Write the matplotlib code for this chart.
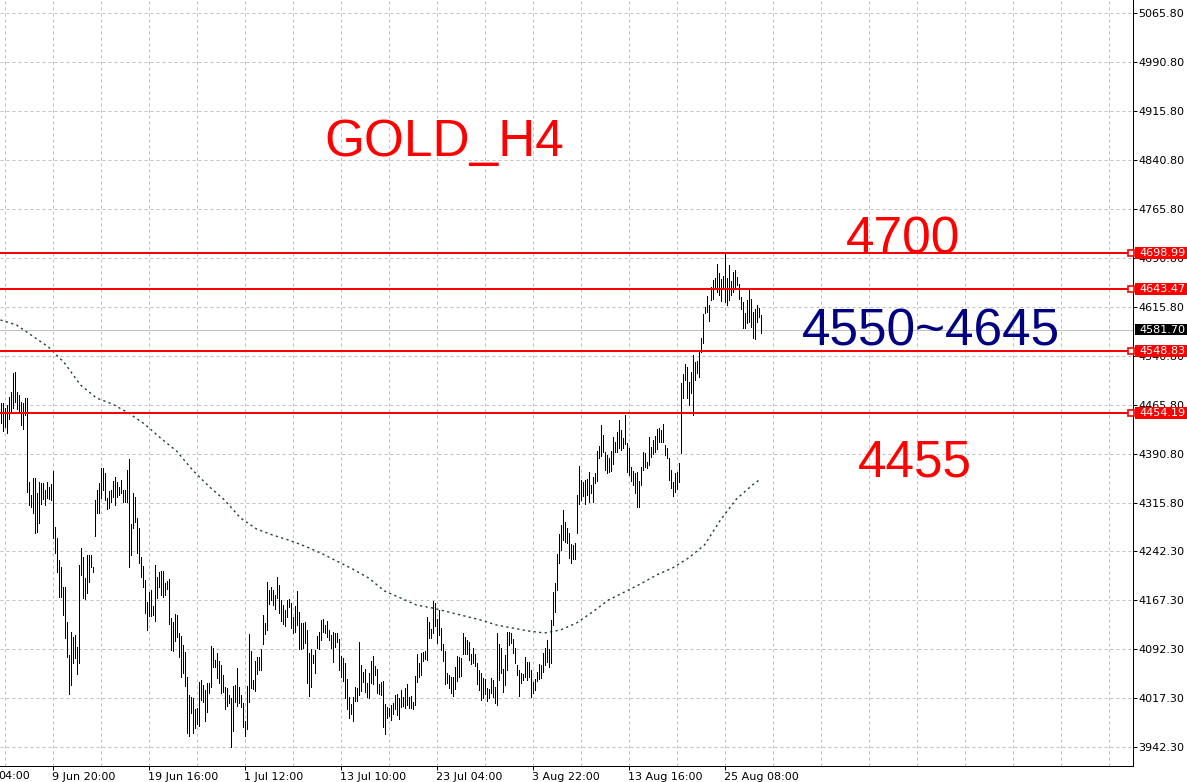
import matplotlib
matplotlib.use('Agg')
import matplotlib.pyplot as plt
from matplotlib.patches import Rectangle
from matplotlib.transforms import blended_transform_factory

# H4 bar highs / lows (one value per bar, left to right)
highs = [
    4468.8, 4468.8, 4461.1, 4466.2, 4479.0, 4485.6, 4514.7, 4516.2, 4485.6, 4481.5,
    4471.3, 4469.8, 4476.4, 4476.4, 4348.9, 4328.5, 4354.0, 4354.0, 4331.0, 4348.9,
    4347.3, 4346.3, 4336.1, 4348.9, 4341.2, 4345.3, 4365.2, 4280.0, 4262.1, 4229.0,
    4218.8, 4188.2, 4187.1, 4134.6, 4083.6, 4119.3, 4111.6, 4114.2, 4095.3, 4221.3,
    4246.8, 4234.1, 4200.9, 4236.6, 4236.6, 4236.6, 4218.8, 4320.8,
    4336.1, 4347.3, 4369.3, 4369.3, 4361.6, 4323.4, 4335.1, 4336.1, 4349.9, 4355.5,
    4347.9, 4340.2, 4351.4, 4336.1, 4336.1, 4366.7, 4383.1, 4284.1, 4331.0, 4324.9,
    4292.8, 4277.5, 4234.1, 4219.8, 4198.4, 4165.2, 4180.5, 4183.1, 4158.6, 4221.3,
    4202.5, 4211.1, 4212.6, 4212.6, 4194.3, 4197.4, 4200.4, 4139.7, 4134.6, 4146.3,
    4144.8, 4116.7, 4112.7, 4098.9, 4088.7, 4050.4, 4022.4, 4019.8,
    4017.2, 4000.4, 4002.9, 4042.7, 4045.3, 4037.6, 4030.0, 4041.2, 4041.2, 4097.3,
    4093.8, 4075.9, 4086.1, 4074.9, 4068.3, 4053.0, 4035.1, 4032.5, 4022.3, 4017.2,
    4036.1, 4037.6, 4063.1, 4035.1, 4022.3, 4010.6, 3983.0, 4036.1, 4115.2, 4089.7,
    4045.3, 4074.9, 4080.0, 4080.0, 4092.2, 4144.8, 4133.0, 4195.8, 4183.1, 4188.2,
    4183.1, 4175.4, 4202.4, 4190.7, 4167.7, 4160.1, 4152.4, 4167.7,
    4168.8, 4162.6, 4142.2, 4158.6, 4181.5, 4149.9, 4133.0, 4133.0, 4134.6, 4121.8,
    4087.1, 4092.2, 4083.6, 4091.2, 4112.7, 4119.3, 4137.1, 4138.2, 4129.5, 4136.1,
    4121.8, 4114.2, 4119.3, 4116.7, 4116.7, 4107.5, 4082.0, 4078.5, 4071.8, 4046.3,
    4018.8, 4008.6, 4019.8, 4034.1, 4032.5, 4104.0, 4068.3, 4058.0, 4061.6, 4040.2,
    4055.5, 4074.9, 4082.0, 4066.7, 4061.6, 4039.2, 4042.7, 4044.3,
    4008.6, 4004.5, 4001.9, 4007.0, 4010.6, 4022.3, 4023.9, 4017.2, 4030.0, 4019.8,
    4032.5, 4039.2, 4019.8, 4020.8, 4012.1, 4051.4, 4085.1, 4070.8, 4087.1, 4088.7,
    4090.2, 4142.2, 4134.6, 4122.9, 4166.7, 4162.7, 4138.2, 4152.4, 4124.4, 4100.4,
    4090.2, 4056.5, 4052.9, 4050.4, 4049.4, 4064.7, 4082.0, 4080.0, 4078.5, 4117.8,
    4111.6, 4106.5, 4104.0, 4085.1, 4093.8, 4085.1, 4071.8, 4060.6,
    4056.5, 4047.9, 4046.3, 4032.5, 4031.0, 4047.9, 4045.3, 4035.1, 4117.8, 4100.4,
    4093.8, 4061.6, 4083.6, 4119.3, 4119.3, 4117.8, 4107.5, 4093.8, 4068.3, 4060.6,
    4056.5, 4054.5, 4081.0, 4073.3, 4073.3, 4060.6, 4042.7, 4046.3, 4058.0, 4069.8,
    4068.3, 4086.1, 4093.8, 4106.5, 4092.2, 4137.1, 4180.5, 4194.3, 4238.2, 4268.8,
    4282.6, 4305.5, 4287.7, 4277.5, 4269.8, 4253.5, 4251.9, 4254.5,
    4328.5, 4373.4, 4351.5, 4348.9, 4351.5, 4353.0, 4364.2, 4343.8, 4356.6, 4361.7,
    4395.8, 4404.0, 4435.6, 4420.4, 4394.8, 4389.7, 4384.6, 4395.8, 4417.8, 4410.1,
    4425.4, 4443.3, 4428.0, 4416.3, 4451.0, 4407.6, 4400.0, 4371.9, 4365.2, 4361.7,
    4364.2, 4349.9, 4371.9, 4394.8, 4392.3, 4378.5, 4417.8, 4402.5, 4412.7, 4419.3,
    4429.5, 4430.5, 4428.0, 4436.7, 4405.0, 4401.0, 4384.6, 4366.8,
    4348.9, 4362.6, 4364.2, 4376.9, 4499.4, 4513.7, 4528.9, 4524.9, 4501.9, 4517.2,
    4542.7, 4532.5, 4534.1, 4547.8, 4568.3, 4605.5, 4616.7, 4633.1, 4619.3, 4646.3,
    4657.5, 4660.1, 4682.0, 4668.8, 4658.6, 4663.7, 4699.4, 4660.1, 4680.5, 4656.5,
    4670.3, 4672.8, 4662.6, 4651.4, 4632.0, 4624.4, 4606.5, 4626.9, 4642.2, 4627.9,
    4609.1, 4612.6, 4619.3, 4614.2, 4604.0,
]
lows = [
    4439.2, 4427.0, 4433.1, 4423.9, 4444.3, 4457.5, 4461.1, 4471.3, 4459.6, 4456.0,
    4435.6, 4429.0, 4450.9, 4333.6, 4313.2, 4310.6, 4300.4, 4269.8, 4272.3, 4286.1,
    4314.7, 4321.8, 4313.2, 4323.4, 4321.8, 4320.8, 4263.2, 4239.2, 4211.1, 4172.8,
    4172.8, 4144.8, 4109.1, 4081.0, 4023.4, 4037.7, 4070.8, 4078.5, 4054.0, 4071.8,
    4206.0, 4170.3, 4168.8, 4177.9, 4195.8, 4218.8, 4210.1, 4265.7,
    4301.4, 4301.4, 4323.4, 4336.1, 4320.8, 4306.5, 4308.1, 4318.3, 4325.9, 4313.2,
    4325.9, 4328.5, 4331.0, 4318.3, 4318.3, 4318.3, 4218.8, 4236.6, 4277.5, 4287.6,
    4240.2, 4223.9, 4202.5, 4187.1, 4147.3, 4121.8, 4143.3, 4143.3, 4144.3, 4136.1,
    4171.3, 4188.2, 4175.4, 4172.8, 4175.4, 4184.1, 4131.0, 4091.2, 4089.7, 4105.5,
    4111.6, 4081.0, 4050.4, 4055.5, 4036.1, 3964.7, 3959.6, 3994.3,
    3963.7, 3971.3, 3977.9, 3974.9, 4014.7, 4012.1, 3983.0, 3996.8, 4025.9, 4035.1,
    4064.7, 4064.7, 4047.8, 4041.2, 4025.9, 4027.4, 4000.4, 4005.5, 4009.6, 3943.3,
    3967.7, 4012.1, 4005.5, 4010.6, 4004.5, 3973.9, 3959.6, 3969.8, 4012.1, 4032.5,
    4031.0, 4028.9, 4054.5, 4060.6, 4060.6, 4100.4, 4115.7, 4121.8, 4161.6, 4167.7,
    4160.1, 4153.5, 4170.3, 4147.3, 4136.1, 4131.0, 4127.9, 4141.2,
    4156.5, 4124.4, 4116.7, 4119.3, 4129.5, 4092.2, 4092.2, 4093.8, 4101.4, 4041.2,
    4020.8, 4034.1, 4070.8, 4055.5, 4093.8, 4092.2, 4106.5, 4119.3, 4116.7, 4110.6,
    4106.5, 4093.8, 4073.3, 4096.3, 4104.0, 4060.6, 4050.4, 4044.3, 4017.2, 4000.4,
    3986.6, 3993.3, 3983.0, 4013.7, 4013.7, 4022.3, 4029.0, 4042.7, 4027.4, 4018.8,
    4017.2, 4040.2, 4039.2, 4052.9, 4025.9, 4023.9, 4022.3, 3973.9,
    3962.0, 3986.6, 3990.2, 3984.0, 3993.3, 4000.4, 3991.7, 3985.1, 4003.5, 4005.5,
    4001.9, 4007.0, 4001.9, 4001.9, 4000.4, 4007.0, 4042.7, 4050.4, 4053.0, 4074.9,
    4076.9, 4075.9, 4109.1, 4109.1, 4116.7, 4128.0, 4101.4, 4114.2, 4091.2, 4074.9,
    4039.2, 4040.2, 4032.5, 4024.9, 4020.8, 4031.0, 4044.3, 4049.4, 4051.4, 4085.1,
    4085.1, 4085.1, 4075.9, 4069.8, 4071.8, 4066.7, 4039.2, 4030.0,
    4014.7, 4017.2, 4023.9, 4013.7, 4017.2, 4024.9, 4019.8, 4009.6, 4007.4, 4045.3,
    4055.5, 4027.4, 4037.6, 4060.6, 4098.9, 4101.4, 4087.1, 4071.8, 4052.9, 4020.8,
    4041.2, 4045.3, 4050.4, 4045.3, 4049.4, 4018.8, 4024.9, 4030.0, 4044.3, 4046.3,
    4047.9, 4058.0, 4068.3, 4073.3, 4064.7, 4070.8, 4129.5, 4149.9, 4183.1, 4224.9,
    4244.3, 4259.6, 4257.1, 4254.5, 4231.5, 4223.9, 4230.0, 4230.0,
    4270.0, 4314.2, 4320.8, 4327.5, 4314.2, 4328.5, 4317.3, 4331.0, 4318.3, 4346.4,
    4349.9, 4384.6, 4388.7, 4393.8, 4366.8, 4361.7, 4363.2, 4365.2, 4375.4, 4394.8,
    4394.8, 4399.9, 4397.4, 4399.9, 4406.1, 4364.2, 4359.1, 4349.9, 4343.8, 4331.0,
    4310.6, 4310.6, 4343.8, 4366.8, 4371.9, 4369.3, 4374.4, 4387.2, 4390.8, 4394.8,
    4398.9, 4409.1, 4409.1, 4410.1, 4389.7, 4385.6, 4351.5, 4338.7,
    4326.9, 4333.6, 4337.1, 4348.9, 4392.2, 4476.4, 4504.5, 4476.4, 4466.2, 4484.1,
    4450.9, 4504.5, 4515.7, 4508.6, 4547.8, 4561.6, 4606.5, 4609.1, 4595.3, 4626.9,
    4627.9, 4643.3, 4639.7, 4634.6, 4625.9, 4644.8, 4624.4, 4619.3, 4626.9, 4634.6,
    4639.7, 4644.8, 4649.9, 4627.9, 4612.6, 4583.6, 4583.6, 4591.2, 4593.8, 4585.1,
    4568.3, 4566.7, 4593.8, 4601.4, 4575.9,
]

# moving average, read every 8 bars (plus the last bar)
ma_every = 8
ma_values = [
    4596.4, 4588.7, 4571.9, 4555.0, 4530.6, 4496.9, 4476.9, 4467.7, 4454.0, 4437.2,
    4415.8, 4395.9, 4366.8, 4342.3, 4320.8, 4293.3, 4276.5, 4267.3, 4259.6, 4250.5,
    4239.8, 4227.5, 4215.3, 4201.5, 4181.6, 4170.9, 4160.1, 4155.5, 4149.4, 4143.3,
    4137.2, 4129.5, 4124.9, 4120.3, 4117.3, 4121.9, 4132.6, 4149.4, 4167.8, 4180.0,
    4192.3, 4206.1, 4216.8, 4232.1, 4252.0, 4290.3, 4322.4, 4343.9, 4353.0,
]

level_prices = [4698.99, 4643.47, 4548.83, 4454.19]
last_price = 4581.70

y_ticks = [5065.80, 4990.80, 4915.80, 4840.80, 4765.80, 4690.80, 4615.80, 4540.80,
           4465.80, 4390.80, 4315.80, 4242.30, 4167.30, 4092.30, 4017.30, 3942.30]
x_tick_bars = [26, 74, 122, 170, 218, 266, 314, 362]
x_tick_labels = ['9 Jun 20:00', '19 Jun 16:00', '1 Jul 12:00', '13 Jul 10:00',
                 '23 Jul 04:00', '3 Aug 22:00', '13 Aug 16:00', '25 Aug 08:00']

W, H = 1187, 782
AX_W, AX_H = 1133, 766
fig = plt.figure(figsize=(W / 100, H / 100), dpi=100)
ax = fig.add_axes([0, (H - AX_H) / H, AX_W / W, AX_H / H])
ax.set_xlim(-0.25, -0.25 + AX_W / 2)
ax.set_ylim(3913.7, 5086.16)

px = 0.72  # one pixel in points
grid_style = dict(color='#c0c0c0', lw=px, linestyle=(0, (3, 3)), zorder=0.5)
for b in range(2, int(AX_W / 2), 24):
    ax.axvline(b, **grid_style)
for t in y_ticks:
    ax.axhline(t, **grid_style)

ax.axhline(last_price, color='#c0c0c0', lw=px, zorder=1)

bars = list(range(len(highs)))
ax.vlines(bars, lows, highs, colors='black', lw=px, antialiased=False, zorder=3)

ma_x = list(range(0, len(highs) - 1, ma_every))[:len(ma_values) - 1] + [len(highs) - 1]
ax.plot(ma_x, ma_values, color='#1f3f3f', lw=1.0, linestyle=(0, (1.6, 2.4)), zorder=2)

for lv in level_prices:
    ax.axhline(lv, color='red', lw=2 * px, zorder=4)

# axes frame / ticks
for s in ('left', 'top'):
    ax.spines[s].set_visible(False)
for s in ('right', 'bottom'):
    ax.spines[s].set_linewidth(px)
    ax.spines[s].set_color('black')
ax.yaxis.tick_right()
ax.set_yticks(y_ticks)
ax.set_yticklabels(['%.2f' % t for t in y_ticks])
ax.set_xticks(x_tick_bars)
ax.set_xticklabels(x_tick_labels, ha='left')
ax.tick_params(axis='both', labelsize=8, length=4 * px, width=px, colors='black', pad=1.2)

fig.text(30 / W, (H - 776) / H, '04:00', ha='right', va='center', fontsize=8)

# price boxes on the right scale
blend = blended_transform_factory(ax.transAxes, ax.transData)
box_h = 12 * 1.5307
for lv in level_prices:
    ax.add_patch(Rectangle((1135 / AX_W, lv - box_h / 2), (W - 1135) / AX_W, box_h,
                           transform=blend, facecolor='red', edgecolor='none',
                           clip_on=False, zorder=6))
    ax.plot([1131 / AX_W], [lv], transform=blend, marker='s', ms=4.5, mfc='white',
            mec='red', mew=1.2, clip_on=False, zorder=7)
    ax.text(1139 / AX_W, lv, '%.2f' % lv, transform=blend, color='white', fontsize=8,
            ha='left', va='center', clip_on=False, zorder=8)
ax.add_patch(Rectangle((1135 / AX_W, last_price - 5.5 * 1.5307), (W - 1135) / AX_W,
                       11 * 1.5307, transform=blend, facecolor='black', edgecolor='none',
                       clip_on=False, zorder=6))
ax.text(1139 / AX_W, last_price, '%.2f' % last_price, transform=blend, color='white',
        fontsize=8, ha='left', va='center', clip_on=False, zorder=8)

big = dict(fontfamily='Liberation Sans', fontsize=37, ha='center', va='baseline',
           transform=ax.transAxes, zorder=9)
ax.text(444 / AX_W, 1 - 156 / AX_H, 'GOLD_H4', color='red', **big)
ax.text(903 / AX_W, 1 - 253 / AX_H, '4700', color='red', **big)
ax.text(931 / AX_W, 1 - 345 / AX_H, '4550~4645', color='#000080', **big)
ax.text(915 / AX_W, 1 - 477 / AX_H, '4455', color='red', **big)

fig.savefig('out.png', dpi=100, facecolor='white')
